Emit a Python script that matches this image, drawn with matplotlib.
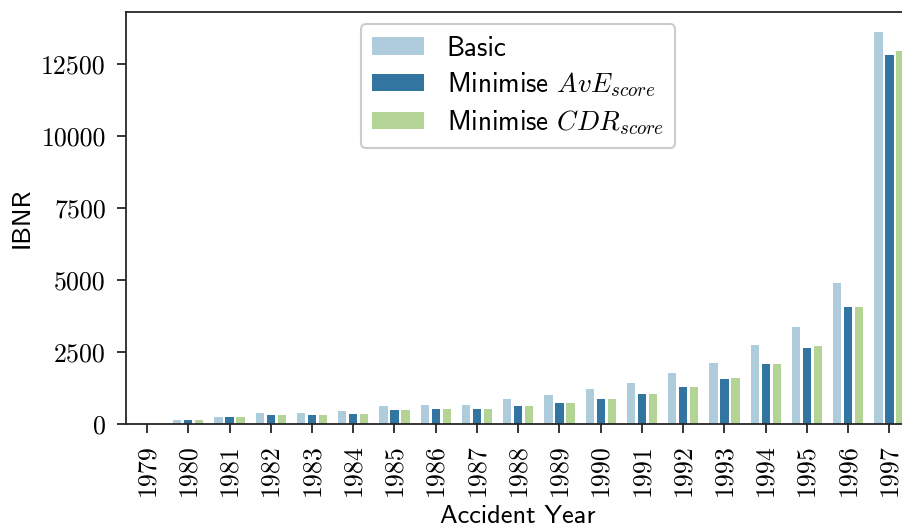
import matplotlib as mpl
import matplotlib.pyplot as plt
import numpy as np

# Data
years = [str(y) for y in range(1979, 1998)]
basic = [0, 135, 254, 371, 394, 452, 638, 672, 672, 869, 997, 1217, 1437,
         1785, 2133, 2735, 3361, 4891, 13618]
min_ave = [0, 130, 250, 301, 301, 348, 487, 522, 510, 638, 730, 869, 1043,
           1287, 1577, 2075, 2642, 4057, 12807]
min_cdr = [0, 125, 250, 301, 301, 348, 487, 522, 510, 638, 730, 869, 1043,
           1287, 1600, 2098, 2700, 4057, 12935]
series_labels = ["Basic", "Minimise $AvE_{score}$", "Minimise $CDR_{score}$"]
yticks = [0, 2500, 5000, 7500, 10000, 12500]

# Desaturated "Paired" colours
COLORS = ["#aeccdb", "#3275a1", "#b3d495"]
SPINE_COLOR = "#262626"

mpl.rcParams["mathtext.fontset"] = "cm"
mpl.rcParams["axes.unicode_minus"] = False

fig = plt.figure(figsize=(9.02, 5.27), dpi=100)
# axes run slightly past the right edge, as in the cropped original
ax = fig.add_axes([126/902, 1 - 424/527, 784/902, 412/527])

x = np.arange(len(years))
pitch = 0.8 / 3
bar_w = 0.2
for i, (vals, lab) in enumerate(zip([basic, min_ave, min_cdr], series_labels)):
    ax.bar(x + (i - 1) * pitch, vals, width=bar_w, color=COLORS[i],
           label=lab, zorder=2)

ax.set_xlim(-0.51, len(years) - 0.5)
ax.set_ylim(0, 14306)

ax.set_xticks(x)
ax.set_xticklabels(years, rotation=90, family="cmr10", fontsize=18.7)
ax.set_yticks(yticks)
ax.set_yticklabels([str(v) for v in yticks], family="cmr10", fontsize=18.7)
ax.tick_params(axis="both", length=6.5, width=1.3, color=SPINE_COLOR,
               pad=8)

for side in ["left", "bottom", "top", "right"]:
    ax.spines[side].set_linewidth(1.3)
    ax.spines[side].set_color(SPINE_COLOR)

ax.set_xlabel("Accident Year", family="cmss10", fontsize=19)
ax.set_ylabel("IBNR", family="cmss10", fontsize=19)
ax.xaxis.set_label_coords(0.5, -0.197)
ax.yaxis.set_label_coords(-0.118, 0.5)

leg = ax.legend(loc="upper center", prop={"family": "cmss10", "size": 19.5},
                handlelength=1.9, handleheight=0.6, handletextpad=0.85,
                labelspacing=0.35, borderpad=0.42, fancybox=True,
                framealpha=1.0, borderaxespad=0.45)
leg.get_frame().set_edgecolor("#cccccc")
leg.get_frame().set_linewidth(1.5)

fig.savefig("out.png", dpi=100)
